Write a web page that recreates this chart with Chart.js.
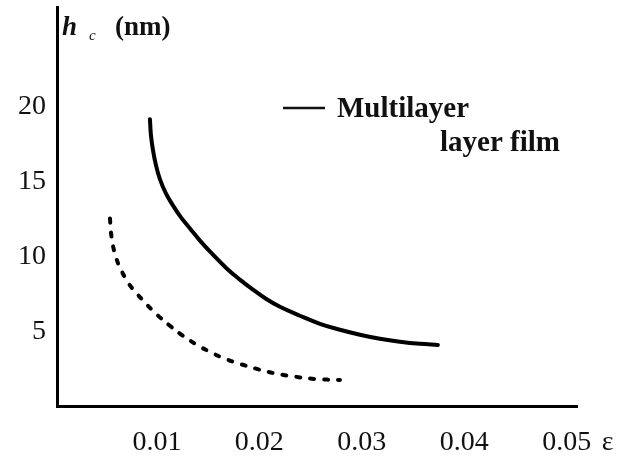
<!DOCTYPE html>
<html>
<head>
<meta charset="utf-8">
<script src="https://cdn.jsdelivr.net/npm/chart.js@4"></script>
<style>
  html, body { margin: 0; padding: 0; background: #fff; }
  #wrap { width: 623px; height: 457px; }
</style>
</head>
<body>
<div id="wrap"><canvas id="hcChart"></canvas></div>
<script>
// strain values and critical thickness
const epsMulti = [0.00932, 0.00942, 0.00962, 0.00991, 0.0103, 0.01088, 0.01157, 0.01235, 0.01323, 0.0142, 0.01547, 0.01684,
                  0.0181, 0.01937, 0.02064, 0.02201, 0.02396, 0.02591, 0.02786, 0.02981, 0.03176, 0.03371, 0.03566, 0.03742];
const hcMulti  = [19.19, 18.12, 17.11, 16.11, 15.17, 14.23, 13.42, 12.62, 11.88, 11.07, 10.13, 9.19,
                  8.46, 7.79, 7.18, 6.64, 6.04, 5.5, 5.1, 4.77, 4.5, 4.3, 4.16, 4.09];

const epsSingle = [0.00542, 0.00552, 0.00571, 0.00601, 0.0064, 0.00718, 0.00805, 0.00903, 0.01001, 0.01127,
                   0.01254, 0.01391, 0.01518, 0.01645, 0.0181, 0.01976, 0.02132, 0.02298, 0.02542, 0.02786];
const hcSingle  = [12.55, 11.61, 10.74, 9.93, 9.26, 8.26, 7.52, 6.78, 6.11, 5.37,
                   4.7, 4.09, 3.62, 3.22, 2.82, 2.48, 2.21, 2.01, 1.81, 1.74];

const xTicks = [0.01, 0.02, 0.03, 0.04, 0.05];
const yTicks = [5, 10, 15, 20];

const serif = '"Liberation Serif", "DejaVu Serif", serif';

function toPoints(xs, ys) {
  return xs.map((x, i) => ({ x: x, y: ys[i] }));
}

// axis title, epsilon and the little legend
const annotations = {
  id: 'annotations',
  afterDraw(chart) {
    const ctx = chart.ctx;
    const area = chart.chartArea;
    ctx.save();
    ctx.fillStyle = '#111';
    ctx.strokeStyle = '#111';
    ctx.textBaseline = 'alphabetic';

    // h_c (nm)
    ctx.font = 'bold italic 27px ' + serif;
    ctx.fillText('h', area.left + 5, area.top + 28);
    ctx.font = 'italic 15px ' + serif;
    ctx.fillText('c', area.left + 32, area.top + 33);
    ctx.font = 'bold 27px ' + serif;
    ctx.fillText('(nm)', area.left + 58, area.top + 28);

    // epsilon after the last tick
    ctx.font = '28px ' + serif;
    const xs = chart.scales.x;
    ctx.fillText('\u03b5', xs.getPixelForValue(0.05) + 35, area.bottom + 44);

    // legend
    ctx.lineWidth = 2.5;
    ctx.beginPath();
    ctx.moveTo(area.left + 226, area.top + 101);
    ctx.lineTo(area.left + 268, area.top + 101);
    ctx.stroke();
    ctx.font = 'bold 29px ' + serif;
    ctx.fillText('Multilayer', area.left + 280, area.top + 110);
    ctx.fillText('layer film', area.left + 383, area.top + 144);
    ctx.restore();
  }
};

new Chart(document.getElementById('hcChart'), {
  type: 'scatter',
  data: {
    datasets: [{
      label: 'Multilayer',
      data: toPoints(epsMulti, hcMulti),
      showLine: true,
      borderColor: '#000',
      borderWidth: 4,
      pointRadius: 0,
      tension: 0.4,
      borderCapStyle: 'round'
    }, {
      label: 'Single layer film',
      data: toPoints(epsSingle, hcSingle),
      showLine: true,
      borderColor: '#000',
      borderWidth: 4,
      borderDash: [4, 10],
      borderCapStyle: 'round',
      pointRadius: 0,
      tension: 0.4
    }]
  },
  options: {
    responsive: true,
    maintainAspectRatio: false,
    animation: false,
    layout: { padding: { top: 7, right: 46, left: 0, bottom: 0 } },
    plugins: {
      legend: { display: false },
      tooltip: { enabled: false }
    },
    scales: {
      x: {
        type: 'linear',
        min: 0.00025,
        max: 0.051,
        afterFit: (scale) => {
          scale.height = 51;
          scale.paddingLeft = 0;
          scale.paddingRight = 0;
        },
        afterBuildTicks: (scale) => { scale.ticks = xTicks.map(v => ({ value: v })); },
        grid: { display: false, drawTicks: false },
        border: { display: true, color: '#000', width: 3 },
        ticks: {
          padding: 20,
          color: '#111',
          maxRotation: 0,
          font: { family: serif, size: 28 },
          callback: (v) => v.toFixed(2)
        }
      },
      y: {
        type: 'linear',
        min: 0,
        max: 26.7,
        afterFit: (scale) => {
          scale.width = 57;
          scale.paddingTop = 0;
          scale.paddingBottom = 0;
        },
        afterBuildTicks: (scale) => { scale.ticks = yTicks.map(v => ({ value: v })); },
        grid: { display: false, drawTicks: false },
        border: { display: true, color: '#000', width: 3 },
        ticks: {
          padding: 11,
          color: '#111',
          font: { family: serif, size: 28 },
          callback: (v) => String(v)
        }
      }
    }
  },
  plugins: [annotations]
});
</script>
</body>
</html>
